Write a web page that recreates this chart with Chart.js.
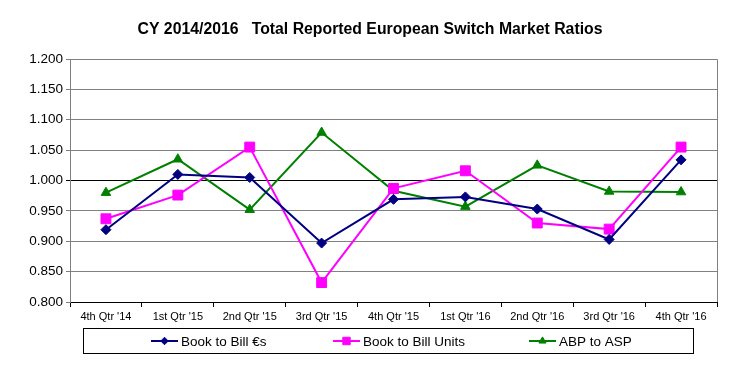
<!DOCTYPE html>
<html>
<head>
<meta charset="utf-8">
<script src="https://cdn.jsdelivr.net/npm/chart.js@4/dist/chart.umd.min.js"></script>
<style>
html,body{margin:0;padding:0;background:#fff;}
#wrap{position:relative;width:747px;height:374px;}
</style>
</head>
<body>
<div id="wrap"><canvas id="c" width="747" height="374"></canvas></div>
<script>
const titleText = "CY 2014/2016   Total Reported European Switch Market Ratios";
const categories = ["4th Qtr '14","1st Qtr '15","2nd Qtr '15","3rd Qtr '15","4th Qtr '15","1st Qtr '16","2nd Qtr '16","3rd Qtr '16","4th Qtr '16"];
const bookToBillEuro = [0.919, 1.010, 1.005, 0.897, 0.969, 0.973, 0.953, 0.903, 1.034];
const bookToBillUnits = [0.937, 0.976, 1.055, 0.832, 0.987, 1.016, 0.930, 0.920, 1.055];
const abpToAsp = [0.980, 1.035, 0.952, 1.079, 0.983, 0.957, 1.025, 0.982, 0.981];
const seriesNames = ["Book to Bill \u20ACs", "Book to Bill Units", "ABP to ASP"];
const yMin = 0.8, yMax = 1.2, yStep = 0.05;

const FONT = "'Liberation Sans', Arial, sans-serif";

const deco = {
  id: 'deco',
  afterDraw(chart) {
    const ctx = chart.ctx, a = chart.chartArea;
    ctx.save();
    // top & right border
    ctx.strokeStyle = '#808080';
    ctx.lineWidth = 1;
    ctx.beginPath();
    ctx.moveTo(a.left, Math.round(a.top) + 0.5);
    ctx.lineTo(Math.round(a.right) + 0.5, Math.round(a.top) + 0.5);
    ctx.lineTo(Math.round(a.right) + 0.5, a.bottom);
    ctx.stroke();
    // title
    ctx.fillStyle = '#000';
    ctx.font = "bold 15.8px " + FONT;
    ctx.textAlign = 'center';
    ctx.textBaseline = 'middle';
    ctx.fillText(titleText, 370, 30);
    // legend box
    ctx.strokeStyle = '#000';
    ctx.lineWidth = 1;
    ctx.strokeRect(83.5, 328.5, 610, 25);
    const xs = [151, 333, 529];
    ctx.font = "13.5px " + FONT;
    ctx.textAlign = 'left';
    chart.data.datasets.forEach((ds, i) => {
      const x = xs[i], y = 341;
      ctx.strokeStyle = ds.borderColor;
      ctx.lineWidth = 2;
      ctx.beginPath();
      ctx.moveTo(x, y); ctx.lineTo(x + 27, y); ctx.stroke();
      ctx.fillStyle = ds.borderColor;
      ctx.strokeStyle = ds.borderColor;
      ctx.lineWidth = 1;
      Chart.helpers.drawPoint(ctx, {pointStyle: ds.pointStyle, radius: ds.pointRadius * 0.75, rotation: 0, borderWidth: 1}, x + 13.5, y);
      ctx.fillStyle = '#000';
      ctx.fillText(ds.label, x + 30, y + 1);
    });
    ctx.restore();
  }
};

new Chart(document.getElementById('c'), {
  type: 'line',
  data: {
    labels: categories,
    datasets: [
      {label: seriesNames[0], data: bookToBillEuro, borderColor: '#000080', backgroundColor: '#000080', pointStyle: 'rectRot', pointRadius: 5, borderWidth: 2, pointBorderWidth: 1},
      {label: seriesNames[1], data: bookToBillUnits, borderColor: '#FF00FF', backgroundColor: '#FF00FF', pointStyle: 'rect', pointRadius: 7, borderWidth: 2, pointBorderWidth: 1},
      {label: seriesNames[2], data: abpToAsp, borderColor: '#008000', backgroundColor: '#008000', pointStyle: 'triangle', pointRadius: 5.5, borderWidth: 2, pointBorderWidth: 1}
    ]
  },
  options: {
    responsive: false,
    animation: false,
    devicePixelRatio: 1,
    layout: {padding: {left: 0, right: 30, top: 59, bottom: 0}},
    plugins: {legend: {display: false}, title: {display: false}, tooltip: {enabled: false}},
    elements: {line: {tension: 0}},
    scales: {
      x: {
        offset: true,
        afterFit(s) { s.height = 72; },
        grid: {offset: true, drawOnChartArea: false, drawTicks: true, tickLength: 5, color: '#000'},
        border: {color: '#000', width: 1},
        ticks: {color: '#000', font: {family: FONT, size: 11}, padding: 3, maxRotation: 0, autoSkip: false}
      },
      y: {
        min: yMin, max: yMax,
        afterFit(s) { s.width = 70; },
        grid: {
          tickLength: 4,
          color: (c) => (c.tick && Math.abs(c.tick.value - 1.0) < 1e-6) ? '#000' : '#808080',
          lineWidth: 1
        },
        border: {color: '#808080', width: 1},
        ticks: {stepSize: yStep, color: '#000', font: {family: FONT, size: 13.5}, padding: 3,
          callback: (v) => Number(v).toFixed(3)}
      }
    }
  },
  plugins: [deco]
});
</script>
</body>
</html>
